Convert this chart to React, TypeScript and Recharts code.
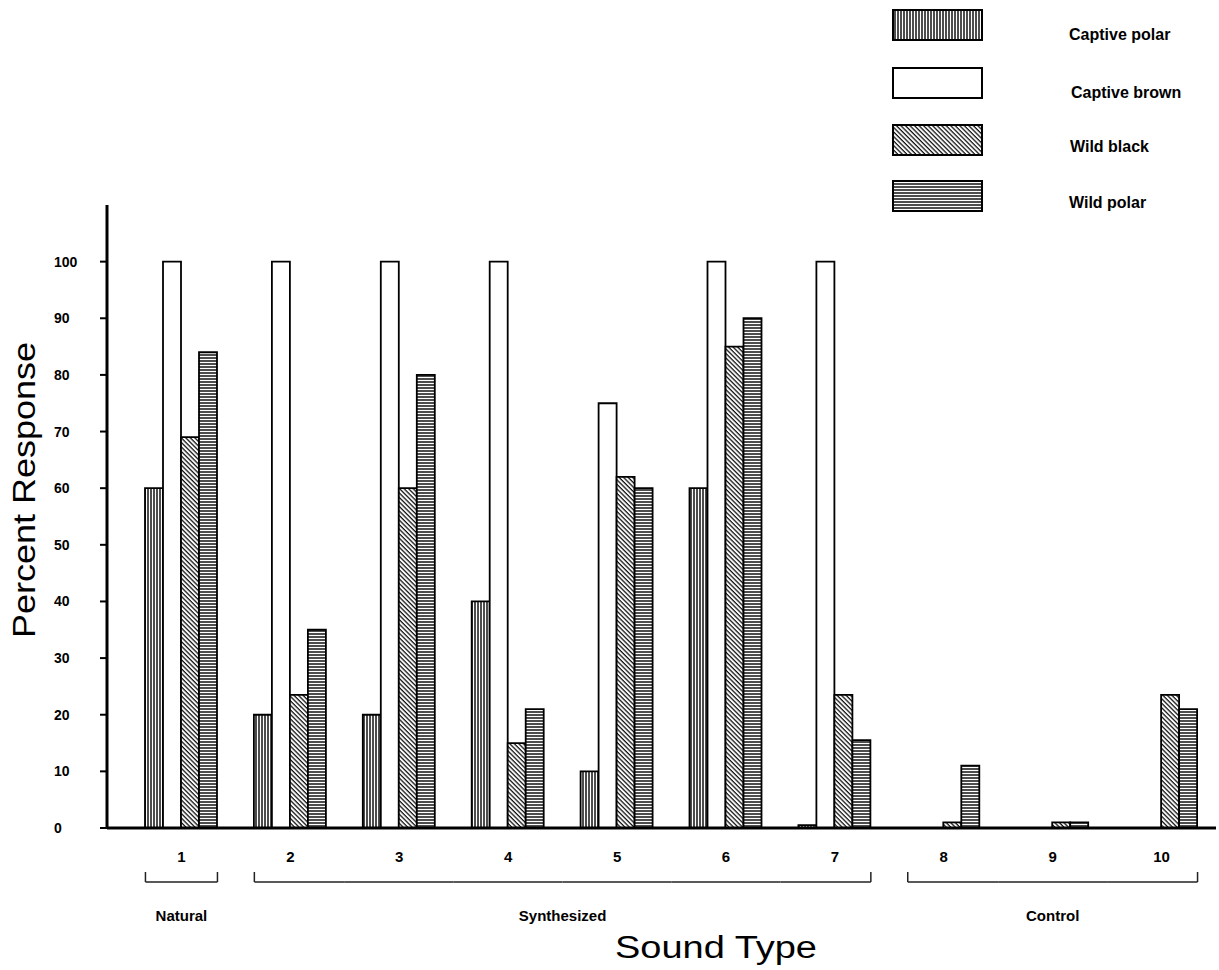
import React from 'react';
import { BarChart, Bar, XAxis, YAxis } from 'recharts';

const categories = ['1', '2', '3', '4', '5', '6', '7', '8', '9', '10'];
const captivePolar = [60, 20, 20, 40, 10, 60, 0.5, 0, 0, 0];
const captiveBrown = [100, 100, 100, 100, 75, 100, 100, 0, 0, 0];
const wildBlack = [69, 23.5, 60, 15, 62, 85, 23.5, 1, 1, 23.5];
const wildPolar = [84, 35, 80, 21, 60, 90, 15.5, 11, 1, 21];
const yTicks = [0, 10, 20, 30, 40, 50, 60, 70, 80, 90, 100];
const groupNames = ['Natural', 'Synthesized', 'Control'];
const groupOf = [0, 1, 1, 1, 1, 1, 1, 2, 2, 2];
const seriesNames = ['Captive polar', 'Captive brown', 'Wild black', 'Wild polar'];
const seriesKeys = ['cp', 'cb', 'wb', 'wp'];
const seriesFills = ['url(#pVert)', '#ffffff', 'url(#pDiag)', 'url(#pHorz)'];

const data = categories.map((name, i) => ({
  name,
  cp: captivePolar[i],
  cb: captiveBrown[i],
  wb: wildBlack[i],
  wp: wildPolar[i],
}));

const W = 1219;
const H = 970;
const MARGIN = { top: 205, right: 3, left: 0, bottom: 0 };
const Y_W = 107;
const X_H = 142;
const PAD_L = 20;
const BAR = 18;
const BAND = (W - MARGIN.right - Y_W - PAD_L) / categories.length;
const HALF = (BAR * seriesKeys.length) / 2;
const FONT = '"Liberation Sans", Arial, Helvetica, sans-serif';

const Patterns = () => (
  <defs>
    <pattern id="pVert" width="3" height="6" patternUnits="userSpaceOnUse">
      <rect width="3" height="6" fill="#fff" />
      <line x1="1" y1="0" x2="1" y2="6" stroke="#111" strokeWidth="1.5" />
    </pattern>
    <pattern id="pHorz" width="6" height="3" patternUnits="userSpaceOnUse">
      <rect width="6" height="3" fill="#fff" />
      <line x1="0" y1="1" x2="6" y2="1" stroke="#111" strokeWidth="1.5" />
    </pattern>
    <pattern id="pDiag" width="3.2" height="6" patternUnits="userSpaceOnUse" patternTransform="rotate(-45)">
      <rect width="3.2" height="6" fill="#fff" />
      <line x1="1" y1="0" x2="1" y2="6" stroke="#111" strokeWidth="1.3" />
    </pattern>
  </defs>
);

const YTick = (props: any) => {
  const { y, payload } = props;
  return (
    <text x={54} y={y + 5} textAnchor="start" fontSize={14} fontWeight="bold" fontFamily={FONT} fill="#000">
      {payload.value}
    </text>
  );
};

const XTick = (props: any) => {
  const { x, payload } = props;
  const i: number = payload.index ?? props.index;
  const g = groupOf[i];
  const start = i === 0 || groupOf[i - 1] !== g;
  const end = i === categories.length - 1 || groupOf[i + 1] !== g;
  const x1 = start ? x - HALF : x - BAND / 2;
  const x2 = end ? x + HALF : x + BAND / 2;
  const members = groupOf.map((v, k) => (v === g ? k : -1)).filter((k) => k >= 0);
  const mid = (members[0] + members[members.length - 1]) / 2;
  const showLabel = i === Math.floor(mid);
  const yb = 882;
  return (
    <g>
      <text x={x} y={862} textAnchor="middle" fontSize={15} fontWeight="bold" fontFamily={FONT} fill="#000">
        {payload.value}
      </text>
      <line x1={x1} y1={yb} x2={x2} y2={yb} stroke="#222" strokeWidth={1.5} />
      {start && <line x1={x1} y1={yb - 10} x2={x1} y2={yb} stroke="#222" strokeWidth={1.5} />}
      {end && <line x1={x2} y1={yb - 10} x2={x2} y2={yb} stroke="#222" strokeWidth={1.5} />}
      {showLabel && (
        <text x={x + (mid - i) * BAND} y={921} textAnchor="middle" fontSize={15} fontWeight="bold" fontFamily={FONT} fill="#000">
          {groupNames[g]}
        </text>
      )}
    </g>
  );
};

const XLabel = () => (
  <text x={716} y={958} textAnchor="middle" fontSize={31} fontFamily={FONT} fill="#000" textLength={202} lengthAdjust="spacingAndGlyphs">
    Sound Type
  </text>
);

const YLabel = () => (
  <text
    transform="translate(35,490) rotate(-90)"
    textAnchor="middle"
    fontSize={31}
    fontFamily={FONT}
    fill="#000"
    textLength={296}
    lengthAdjust="spacingAndGlyphs"
  >
    Percent Response
  </text>
);

const LegendBox = () => {
  const boxY = [10, 68, 125, 181];
  const textY = [40, 98, 152, 208];
  const textX = [1069, 1071, 1070, 1069];
  return (
    <svg width={W} height={230} style={{ position: 'absolute', left: 0, top: 0, pointerEvents: 'none' }}>
      {seriesNames.map((n, i) => (
        <g key={n}>
          <rect x={893} y={boxY[i]} width={89} height={30} fill={seriesFills[i]} stroke="#000" strokeWidth={2} />
          <text x={textX[i]} y={textY[i]} fontSize={16} fontWeight="bold" fontFamily={FONT} fill="#000">
            {n}
          </text>
        </g>
      ))}
    </svg>
  );
};

export default function App() {
  return (
    <div style={{ position: 'absolute', left: 0, top: 0, width: W, height: H, background: '#fff' }}>
      <BarChart width={W} height={H} data={data} margin={MARGIN} barSize={BAR} barGap={0}>
        <Patterns />
        <XAxis
          dataKey="name"
          height={X_H}
          interval={0}
          padding={{ left: PAD_L, right: 0 }}
          axisLine={{ stroke: '#000', strokeWidth: 3 }}
          tickLine={false}
          tick={<XTick />}
          label={<XLabel />}
        />
        <YAxis
          width={Y_W}
          domain={[0, 110]}
          ticks={yTicks}
          allowDataOverflow
          tickSize={7}
          axisLine={{ stroke: '#000', strokeWidth: 3 }}
          tickLine={{ stroke: '#000', strokeWidth: 2 }}
          tick={<YTick />}
          label={<YLabel />}
        />
        {seriesKeys.map((k, i) => (
          <Bar
            key={k}
            dataKey={k}
            name={seriesNames[i]}
            fill={seriesFills[i]}
            stroke="#000"
            strokeWidth={1.8}
            isAnimationActive={false}
          />
        ))}
      </BarChart>
      <LegendBox />
    </div>
  );
}
